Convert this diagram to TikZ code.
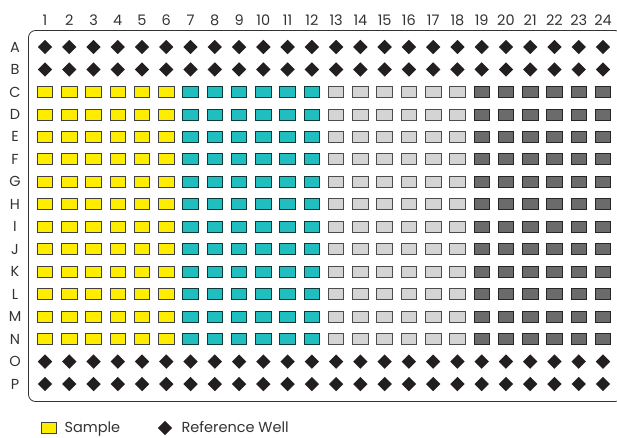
\documentclass[tikz,border=0pt]{standalone}
\usepackage{fontspec}
\setmainfont{Poppins}
\usetikzlibrary{shapes.geometric, positioning}
\definecolor{wellyellow}{HTML}{FFED00}
\definecolor{wellteal}{HTML}{20BEBE}
\definecolor{welllight}{HTML}{D4D4D4}
\definecolor{welldark}{HTML}{6B6B6B}
\definecolor{refblack}{HTML}{231F20}
\definecolor{labelgray}{HTML}{333333}

\begin{document}
\begin{tikzpicture}[
x=1pt, y=-1pt,
font=\fontsize{14.5}{17}\selectfont, text=labelgray,
well/.style={draw, line width=0.8pt, minimum width=15.5pt, minimum height=11pt, inner sep=0pt},
sample/.style={well, fill=wellyellow, draw=black!75},
tealwell/.style={well, fill=wellteal, draw=black!70!wellteal},
lightwell/.style={well, fill=welllight, draw=black!70},
darkwell/.style={well, fill=welldark, draw=black!85},
refwell/.style={diamond, fill=refblack, minimum size=14.5pt, inner sep=0pt},
plate/.style={draw=black!80, line width=0.8pt, rounded corners=7pt}
]
\useasboundingbox (0,0) rectangle (617,437);

% plate outline
\draw[plate] (28.5,30.5) rectangle (622,401.5);

% column numbers
\foreach \c in {1,...,24}
  \node (col-\c) at ({45+24.26*(\c-1)},20.5) {\c};

% row letters
\foreach \r [count=\i from 0] in {A,B,C,D,E,F,G,H,I,J,K,L,M,N,O,P}
  \node (row-\r) at (15,{47+22.47*\i}) {\r};

% reference wells
\foreach \r/\i in {A/0,B/1,O/14,P/15}
  \foreach \c in {1,...,24}
    \node[refwell] (\r-\c) at ({45+24.26*(\c-1)},{47+22.47*\i}) {};

% sample and other wells
\foreach \r [count=\i from 2] in {C,D,E,F,G,H,I,J,K,L,M,N}
  \foreach \kind/\first/\last in {sample/1/6, tealwell/7/12, lightwell/13/18, darkwell/19/24}
    \foreach \c in {\first,...,\last}
      \node[\kind] (\r-\c) at ({45+24.26*(\c-1)},{47+22.47*\i}) {};

% legend
\node[sample] (legsample) at (49,428) {};
\node[anchor=mid west] (legsampletext) at (61,429.5) {Sample};
\node[refwell] (legref) at (165,428) {};
\node[anchor=mid west] (legreftext) at (178,429.5) {Reference Well};

\end{tikzpicture}
\end{document}
